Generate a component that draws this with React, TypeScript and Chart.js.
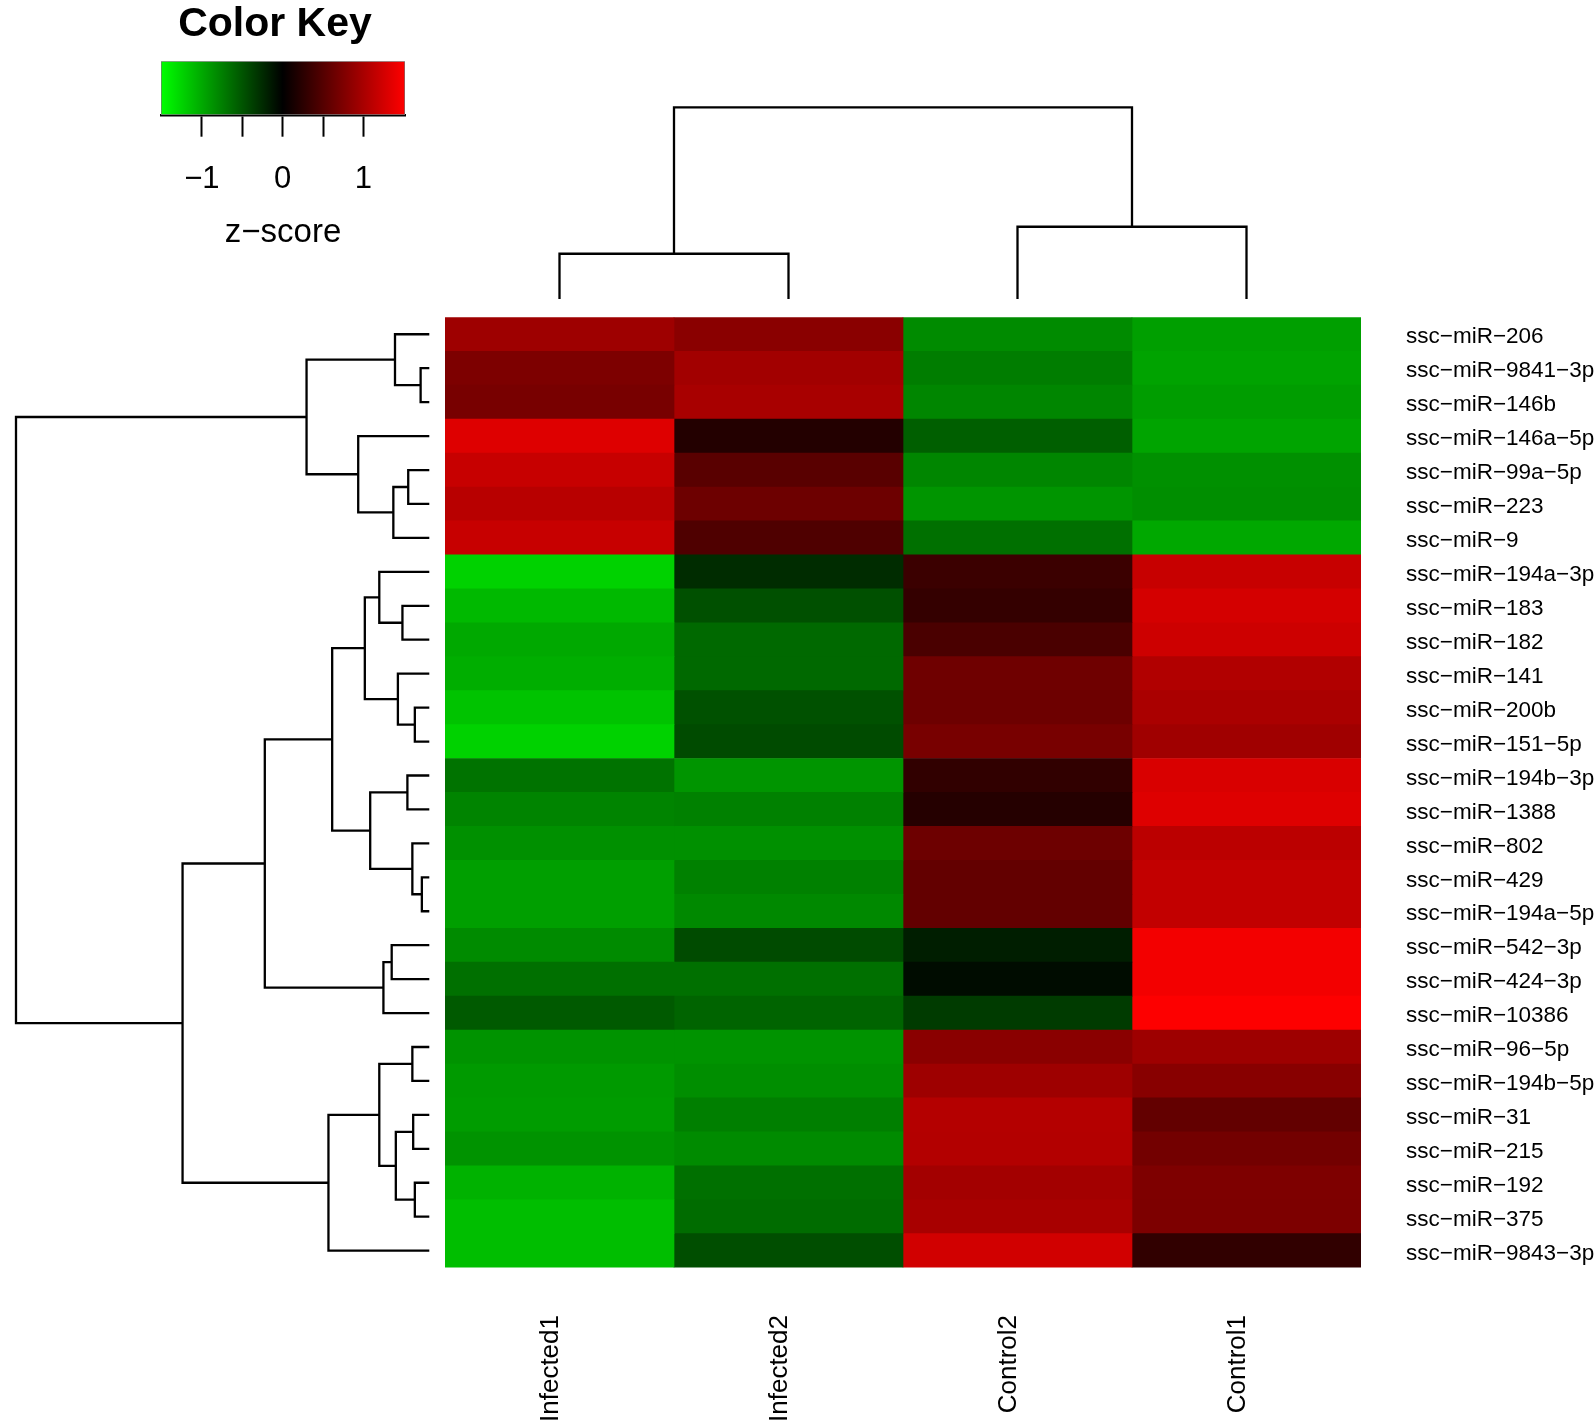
import React, { useEffect, useRef } from 'react';
import { Chart, registerables } from 'chart.js';

Chart.register(...registerables);

const FONT = "'Liberation Sans', Arial, Helvetica, sans-serif";

// ---------------- data ----------------
const rowLabels = [
  'ssc−miR−206', 'ssc−miR−9841−3p', 'ssc−miR−146b', 'ssc−miR−146a−5p', 'ssc−miR−99a−5p',
  'ssc−miR−223', 'ssc−miR−9', 'ssc−miR−194a−3p', 'ssc−miR−183', 'ssc−miR−182',
  'ssc−miR−141', 'ssc−miR−200b', 'ssc−miR−151−5p', 'ssc−miR−194b−3p', 'ssc−miR−1388',
  'ssc−miR−802', 'ssc−miR−429', 'ssc−miR−194a−5p', 'ssc−miR−542−3p', 'ssc−miR−424−3p',
  'ssc−miR−10386', 'ssc−miR−96−5p', 'ssc−miR−194b−5p', 'ssc−miR−31', 'ssc−miR−215',
  'ssc−miR−192', 'ssc−miR−375', 'ssc−miR−9843−3p',
];

const colLabels = ['Infected1', 'Infected2', 'Control2', 'Control1'];

// row z-scores per sample (column order as displayed)
const infected1 = [0.94, 0.74, 0.71, 1.32, 1.18, 1.09, 1.18, -1.24, -1.09, -1.0, -1.03, -1.15, -1.24, -0.68, -0.78, -0.85, -0.94, -0.94, -0.82, -0.66, -0.53, -0.87, -0.91, -0.92, -0.87, -1.05, -1.12, -1.12];
const infected2 = [0.82, 0.96, 1.0, 0.21, 0.53, 0.65, 0.47, -0.26, -0.47, -0.62, -0.62, -0.48, -0.44, -0.88, -0.76, -0.85, -0.76, -0.81, -0.44, -0.66, -0.59, -0.87, -0.84, -0.75, -0.82, -0.66, -0.64, -0.46];
const control2 = [-0.82, -0.74, -0.79, -0.56, -0.79, -0.88, -0.66, 0.35, 0.31, 0.44, 0.66, 0.65, 0.71, 0.29, 0.22, 0.65, 0.59, 0.59, -0.18, -0.07, -0.35, 0.82, 0.94, 1.07, 1.06, 0.97, 1.0, 1.24];
const control1 = [-0.94, -0.96, -0.93, -0.97, -0.85, -0.84, -0.99, 1.18, 1.26, 1.22, 1.05, 1.01, 0.95, 1.29, 1.32, 1.11, 1.15, 1.15, 1.44, 1.44, 1.5, 0.94, 0.81, 0.59, 0.68, 0.75, 0.74, 0.29];

// row dendrogram (hclust-style merges: negative = leaf row, positive = earlier merge)
const rowMerges = [
  [-2, -3], [-1, 1], [-5, -6], [3, -7], [-4, 4], [2, 5],
  [-9, -10], [-8, 7], [-12, -13], [-11, 9], [8, 10],
  [-14, -15], [-17, -18], [-16, 13], [12, 14], [11, 15],
  [-19, -20], [17, -21], [16, 18],
  [-22, -23], [-24, -25], [-26, -27], [21, 22], [20, 23], [24, -28],
  [19, 25], [6, 26],
];
const rowHeights = [
  0.021, 0.083, 0.051, 0.087, 0.172, 0.297,
  0.065, 0.121, 0.035, 0.076, 0.156,
  0.053, 0.018, 0.041, 0.143, 0.235,
  0.091, 0.111, 0.398,
  0.041, 0.039, 0.035, 0.081, 0.121, 0.244,
  0.597, 1.0,
];

// column dendrogram
const colMerges = [[-1, -2], [-3, -4], [1, 2]];
const colHeights = [0.236, 0.377, 1.0];

// colour key
const keyMin = -1.506;
const keyMax = 1.514;
const keyTicks = [-1, -0.5, 0, 0.5, 1];
const keyTickLabels = ['−1', '', '0', '', '1'];

// ---------------- helpers ----------------
function zColor(z: number): string {
  if (z < 0) {
    const c = Math.round(Math.min(1, z / keyMin) * 255);
    return `rgb(0,${c},0)`;
  }
  const c = Math.round(Math.min(1, z / keyMax) * 255);
  return `rgb(${c},0,0)`;
}

function dendroDatasets(merges: number[][], heights: number[], horizontal: boolean) {
  const pos: number[] = [];
  const posOf = (c: number) => (c < 0 ? -c - 1 : pos[c - 1]);
  const hOf = (c: number) => (c < 0 ? 0 : heights[c - 1]);
  return merges.map(([a, b], k) => {
    const h = heights[k];
    const pa = posOf(a);
    const pb = posOf(b);
    pos[k] = (pa + pb) / 2;
    const pts = [[hOf(a), pa], [h, pa], [h, pb], [hOf(b), pb]];
    return {
      data: pts.map(([hh, p]) => (horizontal ? { x: hh, y: p } : { x: p, y: hh })),
      borderColor: '#000',
      borderWidth: 2.3,
      pointRadius: 0,
      fill: false,
      tension: 0,
      clip: false,
      borderJoinStyle: 'miter',
      borderCapStyle: 'butt',
    };
  });
}

const W = 1594;
const H = 1420;

export default function App() {
  const heatRef = useRef<HTMLCanvasElement>(null);
  const rowRef = useRef<HTMLCanvasElement>(null);
  const colRef = useRef<HTMLCanvasElement>(null);
  const keyRef = useRef<HTMLCanvasElement>(null);

  useEffect(() => {
    const charts: Chart[] = [];
    const columns = [infected1, infected2, control2, control1];

    // -------- heatmap --------
    charts.push(
      new Chart(heatRef.current!, {
        type: 'bar',
        data: {
          labels: rowLabels,
          datasets: columns.map((vals, j) => ({
            label: colLabels[j],
            data: vals.map(() => 1),
            backgroundColor: vals.map(zColor),
            borderWidth: 0,
            barPercentage: 1,
            categoryPercentage: 1,
            xAxisID: 'x',
            yAxisID: 'y',
          })),
        } as any,
        options: {
          indexAxis: 'y',
          animation: false,
          responsive: false,
          maintainAspectRatio: false,
          events: [],
          layout: { autoPadding: false, padding: { left: 445, top: 317.3, right: 0, bottom: 0 } },
          plugins: { legend: { display: false }, tooltip: { enabled: false }, title: { display: false } },
          scales: {
            x: { type: 'linear', stacked: true, min: 0, max: 4, display: false },
            y: {
              type: 'category',
              stacked: true,
              position: 'right',
              grid: { display: false, drawTicks: false },
              border: { display: false },
              ticks: {
                autoSkip: false,
                padding: 45,
                labelOffset: 3,
                color: '#000',
                crossAlign: 'near',
                font: { size: 22.5, family: FONT },
              },
              afterFit: (s: any) => {
                s.width = W - 1361;
              },
            },
            xLabels: {
              type: 'category',
              labels: colLabels,
              position: 'bottom',
              offset: true,
              grid: { display: false, drawTicks: false },
              border: { display: false },
              ticks: {
                autoSkip: false,
                minRotation: 90,
                maxRotation: 90,
                padding: 47.4,
                labelOffset: -9,
                color: '#000',
                font: { size: 26, family: FONT },
              },
              afterFit: (s: any) => {
                s.height = H - 1267.6;
              },
            },
          } as any,
        } as any,
      })
    );

    // -------- row dendrogram --------
    charts.push(
      new Chart(rowRef.current!, {
        type: 'line',
        data: { datasets: dendroDatasets(rowMerges, rowHeights, true) } as any,
        options: {
          animation: false,
          responsive: false,
          maintainAspectRatio: false,
          events: [],
          layout: { autoPadding: false, padding: { left: 16, right: 445 - 429.3, top: 317.3, bottom: H - 1267.6 } },
          plugins: { legend: { display: false }, tooltip: { enabled: false } },
          scales: {
            x: { type: 'linear', min: 0, max: 1, reverse: true, display: false },
            y: { type: 'linear', min: -0.5, max: rowLabels.length - 0.5, reverse: true, display: false },
          },
        } as any,
      })
    );

    // -------- column dendrogram --------
    charts.push(
      new Chart(colRef.current!, {
        type: 'line',
        data: { datasets: dendroDatasets(colMerges, colHeights, false) } as any,
        options: {
          animation: false,
          responsive: false,
          maintainAspectRatio: false,
          events: [],
          layout: { autoPadding: false, padding: { left: 445, right: W - 1361, top: 107.3, bottom: 317 - 299 } },
          plugins: { legend: { display: false }, tooltip: { enabled: false } },
          scales: {
            x: { type: 'linear', min: -0.5, max: colLabels.length - 0.5, display: false },
            y: { type: 'linear', min: 0, max: 1, display: false },
          },
        } as any,
      })
    );

    // -------- colour key --------
    charts.push(
      new Chart(keyRef.current!, {
        type: 'bar',
        data: {
          labels: [''],
          datasets: [
            {
              data: [[keyMin, keyMax]],
              backgroundColor: (ctx: any) => {
                const chart = ctx.chart;
                const xs = chart.scales.x;
                if (!chart.chartArea || !xs) return '#000';
                const x0 = xs.getPixelForValue(keyMin);
                const x1 = xs.getPixelForValue(keyMax);
                const g = chart.ctx.createLinearGradient(x0, 0, x1, 0);
                g.addColorStop(0, 'rgb(0,255,0)');
                g.addColorStop((0 - keyMin) / (keyMax - keyMin), 'rgb(0,0,0)');
                g.addColorStop(1, 'rgb(255,0,0)');
                return g;
              },
              borderColor: '#777',
              borderWidth: 1,
              borderSkipped: false,
              barPercentage: 1,
              categoryPercentage: 1,
            },
          ],
        } as any,
        options: {
          indexAxis: 'y',
          animation: false,
          responsive: false,
          maintainAspectRatio: false,
          events: [],
          layout: { autoPadding: false, padding: { left: 145, right: 450 - 405, top: 0, bottom: 0 } },
          plugins: {
            legend: { display: false },
            tooltip: { enabled: false },
            title: {
              display: true,
              text: 'Color Key',
              color: '#000',
              font: { size: 41, weight: 'bold', family: FONT, lineHeight: 1 },
              padding: { top: 3.7, bottom: 16.5 },
            },
          },
          scales: {
            x: {
              type: 'linear',
              min: keyMin,
              max: keyMax,
              position: 'bottom',
              z: 1,
              grid: {
                display: true,
                drawOnChartArea: false,
                drawTicks: true,
                tickLength: 21.7,
                tickWidth: 2,
                tickColor: '#000',
                color: '#000',
              },
              border: { display: true, color: '#000', width: 2.5 },
              afterBuildTicks: (s: any) => {
                s.ticks = keyTicks.map((v) => ({ value: v }));
              },
              ticks: {
                padding: 27,
                color: '#000',
                font: { size: 31, family: FONT, lineHeight: 1 },
                callback: (_v: any, i: number) => keyTickLabels[i],
              },
              title: {
                display: true,
                text: 'z−score',
                color: '#000',
                font: { size: 33, family: FONT, lineHeight: 1 },
                padding: { top: 0, bottom: 10.5 },
              },
              afterFit: (s: any) => {
                s.height = 145;
              },
            },
            y: {
              type: 'category',
              display: true,
              grid: { display: false, drawTicks: false },
              border: { display: false },
              ticks: { display: false },
              afterFit: (s: any) => {
                s.width = 16;
              },
            },
          },
        } as any,
      })
    );

    return () => charts.forEach((c) => c.destroy());
  }, []);

  const abs = (w: number, h: number): React.CSSProperties => ({
    position: 'absolute',
    left: 0,
    top: 0,
    width: w,
    height: h,
  });

  return (
    <div style={{ position: 'absolute', left: 0, top: 0, width: W, height: H, background: '#fff', overflow: 'hidden' }}>
      <canvas ref={heatRef} width={W} height={H} style={abs(W, H)} />
      <canvas ref={rowRef} width={445} height={H} style={abs(445, H)} />
      <canvas ref={colRef} width={W} height={317} style={abs(W, 317)} />
      <canvas ref={keyRef} width={450} height={260} style={abs(450, 260)} />
    </div>
  );
}
